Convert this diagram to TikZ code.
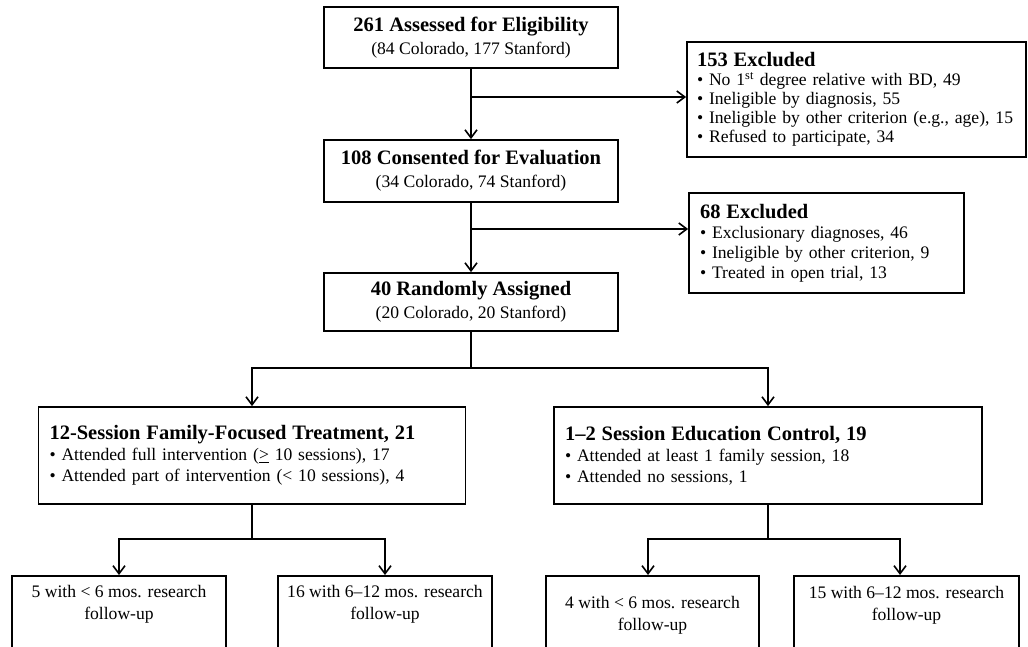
\documentclass[tikz,border=0pt]{standalone}
\usepackage{fontspec}
\setmainfont{Liberation Serif}
\usetikzlibrary{arrows.meta}
\newcommand{\boxtitle}[1]{{\fontsize{20.5}{23}\selectfont\bfseries #1}}

\begin{document}
\begin{tikzpicture}[x=1pt,y=-1pt,
  box/.style={draw, line width=1.8pt, inner sep=0pt, align=center, font=\fontsize{17.6}{23}\selectfont},
  listbox/.style={draw, line width=1.8pt, inner xsep=12pt, inner ysep=0pt, align=left, font=\fontsize{17.6}{19}\selectfont},
  fupbox/.style={draw, line width=1.8pt, inner sep=0pt, anchor=north, font=\fontsize{17.6}{22}\selectfont},
  link/.style={line width=1.6pt},
  >={Straight Barb[length=8pt,width=12pt]}]
\useasboundingbox (0,0) rectangle (1028,646);
\clip (0,0) rectangle (1028,646);

\node[box, minimum width=294pt, minimum height=61pt] (assess) at (471,37.5)
  {\boxtitle{261 Assessed for Eligibility}\\(84 Colorado, 177 Stanford)};
\node[box, minimum width=294pt, minimum height=62pt] (consent) at (471,171)
  {\boxtitle{108 Consented for Evaluation}\\(34 Colorado, 74 Stanford)};
\node[box, minimum width=294pt, minimum height=58pt] (rand) at (471,302)
  {\boxtitle{40 Randomly Assigned}\\(20 Colorado, 20 Stanford)};

\node[listbox, inner xsep=10pt, text width=319pt, minimum height=115pt] (excl1) at (856.5,99.5)
  {\boxtitle{153 Excluded}\\
   • No 1\textsuperscript{st} degree relative with BD, 49\\
   • Ineligible by diagnosis, 55\\
   • Ineligible by other criterion (e.g., age), 15\\
   • Refused to participate, 34};
\node[listbox, inner xsep=11pt, text width=253pt, minimum height=100pt, font=\fontsize{17.6}{20}\selectfont] (excl2) at (826.5,243)
  {\boxtitle{68 Excluded}\\
   • Exclusionary diagnoses, 46\\
   • Ineligible by other criterion, 9\\
   • Treated in open trial, 13};

\node[listbox, inner xsep=11pt, text width=405pt, minimum height=97pt, font=\fontsize{17.6}{21}\selectfont] (fft) at (252,455.5)
  {\boxtitle{12-Session Family-Focused Treatment, 21}\\
   • Attended full intervention (\underline{>} 10 sessions), 17\\
   • Attended part of intervention (< 10 sessions), 4};
\node[listbox, inner xsep=11pt, text width=406pt, minimum height=97pt, font=\fontsize{17.6}{21}\selectfont] (edu) at (768,455.5)
  {\boxtitle{1–2 Session Education Control, 19}\\
   • Attended at least 1 family session, 18\\
   • Attended no sessions, 1};

\node[fupbox] (fa) at (119,575)
  {\parbox[t][100pt][t]{214pt}{\centering\rule{0pt}{22pt}5 with < 6 mos. research\\follow-up}};
\node[fupbox] (fb) at (385,575)
  {\parbox[t][100pt][t]{214pt}{\centering\rule{0pt}{22pt}16 with 6–12 mos. research\\follow-up}};
\node[fupbox] (fc) at (652.5,575)
  {\parbox[t][100pt][t]{213pt}{\centering\rule{0pt}{33pt}4 with < 6 mos. research\\follow-up}};
\node[fupbox] (fd) at (906.5,575)
  {\parbox[t][100pt][t]{225pt}{\centering\rule{0pt}{23pt}15 with 6–12 mos. research\\follow-up}};

\coordinate (cut1) at (471,97);
\coordinate (cut2) at (471,229);
\coordinate (arm) at (471,368);
\coordinate (farm) at (252,539);
\coordinate (earm) at (768,539);

\draw[link,->] (assess) -- (consent);
\draw[link,->] (cut1) -- (cut1 -| excl1.west);
\draw[link,->] (consent) -- (rand);
\draw[link,->] (cut2) -- (cut2 -| excl2.west);
\draw[link] (rand) -- (arm);
\draw[link,->] (arm) -| (fft);
\draw[link,->] (arm) -| (edu);
\draw[link] (fft) -- (farm);
\draw[link,->] (farm) -| (fa);
\draw[link,->] (farm) -| (fb);
\draw[link] (edu) -- (earm);
\draw[link,->] (earm) -| ([xshift=-4.5pt]fc.north);
\draw[link,->] (earm) -| ([xshift=-6.5pt]fd.north);
\end{tikzpicture}
\end{document}
